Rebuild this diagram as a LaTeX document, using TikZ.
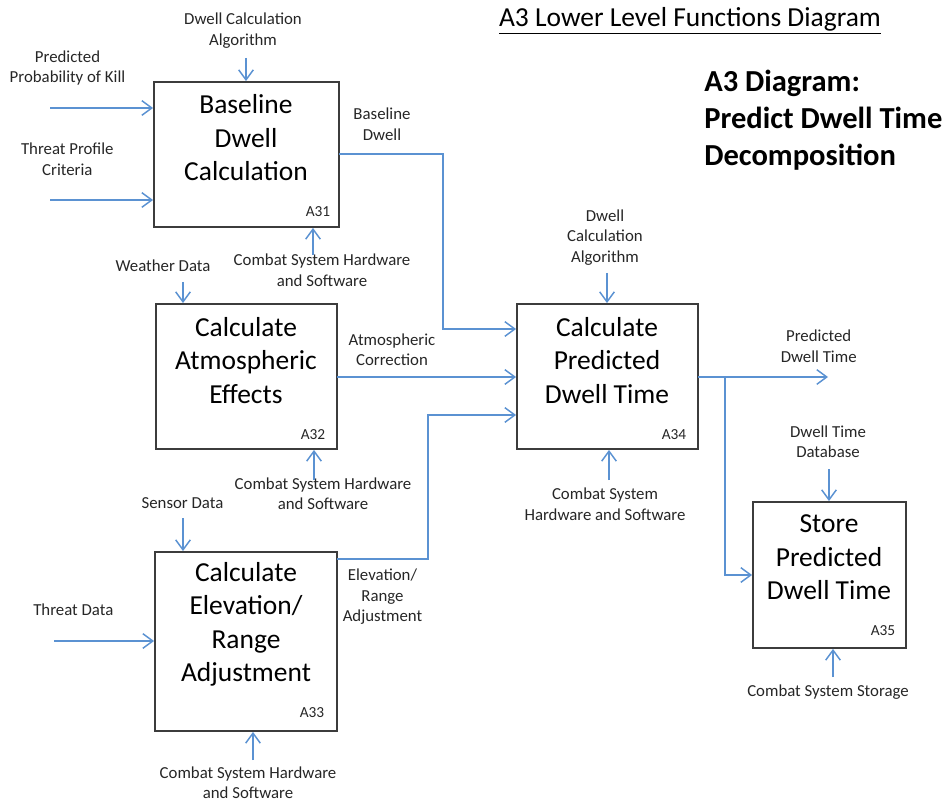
\documentclass[tikz,border=0pt]{standalone}
\usepackage{fontspec}
\setmainfont{Carlito}
\usetikzlibrary{arrows.meta,fit,calc}
\definecolor{flowblue}{RGB}{91,146,210}
\definecolor{boxgray}{RGB}{60,60,60}
\begin{document}
\begin{tikzpicture}[x=0.75pt,y=-0.75pt,
  box/.style={draw=boxgray,line width=1.4pt,inner sep=0pt,fill=none},
  bigtxt/.style={align=center,inner sep=0pt,font=\fontsize{20.6}{25.1}\selectfont},
  lbl/.style={align=center,inner sep=0pt,font=\fontsize{12.6}{15.4}\selectfont,text=black!85},
  code/.style={inner sep=0pt,font=\fontsize{11.5}{14}\selectfont,text=black!85},
  flow/.style={draw=flowblue,line width=1.1pt,-{Straight Barb[length=7.5pt,width=11pt,line width=1.1pt]}},
  plain/.style={draw=flowblue,line width=1.1pt}]
\useasboundingbox (0,0) rectangle (949,802);
% title
\node[inner sep=0pt,font=\fontsize{20.6}{25}\selectfont] (title) at (690,21) {\underline{A3 Lower Level Functions Diagram}};
\node[align=left,anchor=west,inner sep=0pt,font=\fontsize{22.9}{27.8}\bfseries] (head) at (704,120.5) {A3 Diagram:\\Predict Dwell Time\\Decomposition};
% boxes
\coordinate (b1a) at (154,82); \coordinate (b1b) at (339,227);
\coordinate (b2a) at (156,304); \coordinate (b2b) at (337,449);
\coordinate (b3a) at (155,552); \coordinate (b3b) at (337,731);
\coordinate (b4a) at (517,304); \coordinate (b4b) at (698,449);
\coordinate (b5a) at (753,502); \coordinate (b5b) at (906,648);
\node[box,fit=(b1a)(b1b)] (a31) {};
\node[box,fit=(b2a)(b2b)] (a32) {};
\node[box,fit=(b3a)(b3b)] (a33) {};
\node[box,fit=(b4a)(b4b)] (a34) {};
\node[box,fit=(b5a)(b5b)] (a35) {};
\node[bigtxt] (t31) at (246,138) {Baseline\\Dwell\\Calculation};
\node[bigtxt] (t32) at (246,360.5) {Calculate\\Atmospheric\\Effects};
\node[bigtxt] (t33) at (246,624.5) {Calculate\\Elevation/\\Range\\Adjustment};
\node[bigtxt] (t34) at (607,360.5) {Calculate\\Predicted\\Dwell Time};
\node[bigtxt] (t35) at (829,557.5) {Store\\Predicted\\Dwell Time};
\node[code] (c31) at (318,212) {A31};
\node[code] (c32) at (313,435) {A32};
\node[code] (c33) at (312,713) {A33};
\node[code] (c34) at (674,435) {A34};
\node[code] (c35) at (883,631) {A35};
% labels
\node[lbl] (l1) at (243,30.5) {Dwell Calculation\\Algorithm};
\node[lbl] (l2) at (67.5,68) {Predicted\\Probability of Kill};
\node[lbl] (l3) at (67.3,159) {Threat Profile\\Criteria};
\node[lbl] (l4) at (382,124) {Baseline\\Dwell};
\node[lbl] (l5) at (163,265.3) {Weather Data};
\node[lbl] (l6) at (322,270) {Combat System Hardware\\and Software};
\node[lbl] (l7) at (392,349.7) {Atmospheric\\Correction};
\node[lbl] (l8) at (323,493.5) {Combat System Hardware\\and Software};
\node[lbl] (l9) at (182.5,502.7) {Sensor Data};
\node[lbl] (l10) at (73.3,609.3) {Threat Data};
\node[lbl] (l11) at (382.5,597) {Elevation/\\Range\\Adjustment};
\node[lbl] (l12) at (248,782.7) {Combat System Hardware\\and Software};
\node[lbl] (l13) at (605,237.2) {Dwell\\Calculation\\Algorithm};
\node[lbl] (l14) at (605,504) {Combat System\\Hardware and Software};
\node[lbl] (l15) at (818.7,346.3) {Predicted\\Dwell Time};
\node[lbl] (l16) at (828,441.5) {Dwell Time\\Database};
\node[lbl] (l17) at (828,691.7) {Combat System Storage};
% free ends
\coordinate (s1) at (50,108);
\coordinate (s2) at (50,200);
\coordinate (s3) at (246,58);
\coordinate (s4) at (313,255);
\coordinate (s5) at (183,282);
\coordinate (s6) at (314,480);
\coordinate (s7) at (183,518);
\coordinate (s8) at (54,641);
\coordinate (s9) at (253,760);
\coordinate (s10) at (607,273);
\coordinate (s11) at (609,480);
\coordinate (s12) at (828,377);
\coordinate (s13) at (829,469);
\coordinate (s14) at (833,677);
\coordinate (o1) at (339,154);
\coordinate (o2) at (337,377);
\coordinate (o3) at (337,559);
\coordinate (o4) at (698,377);
\coordinate (br) at (725,377);
% connectors
\draw[flow] (s1) -- (s1 -| a31.west);
\draw[flow] (s2) -- (s2 -| a31.west);
\draw[flow] (s3) -- (s3 |- a31.north);
\draw[flow] (s4) -- (s4 |- a31.south);
\draw[flow] (o1) -- (443,154) -- (443,329) -- (a34.west |- 0,329);
\draw[flow] (s5) -- (s5 |- a32.north);
\draw[flow] (o2) -- (o2 -| a34.west);
\draw[flow] (s6) -- (s6 |- a32.south);
\draw[flow] (s7) -- (s7 |- a33.north);
\draw[flow] (s8) -- (s8 -| a33.west);
\draw[flow] (o3) -- (428,559) -- (428,415) -- (a34.west |- 0,415);
\draw[flow] (s9) -- (s9 |- a33.south);
\draw[flow] (s10) -- (s10 |- a34.north);
\draw[flow] (s11) -- (s11 |- a34.south);
\draw[flow] (o4) -- (s12);
\draw[flow] (br) -- (725,575) -- (a35.west |- 0,575);
\draw[flow] (s13) -- (s13 |- a35.north);
\draw[flow] (s14) -- (s14 |- a35.south);
\end{tikzpicture}
\end{document}
